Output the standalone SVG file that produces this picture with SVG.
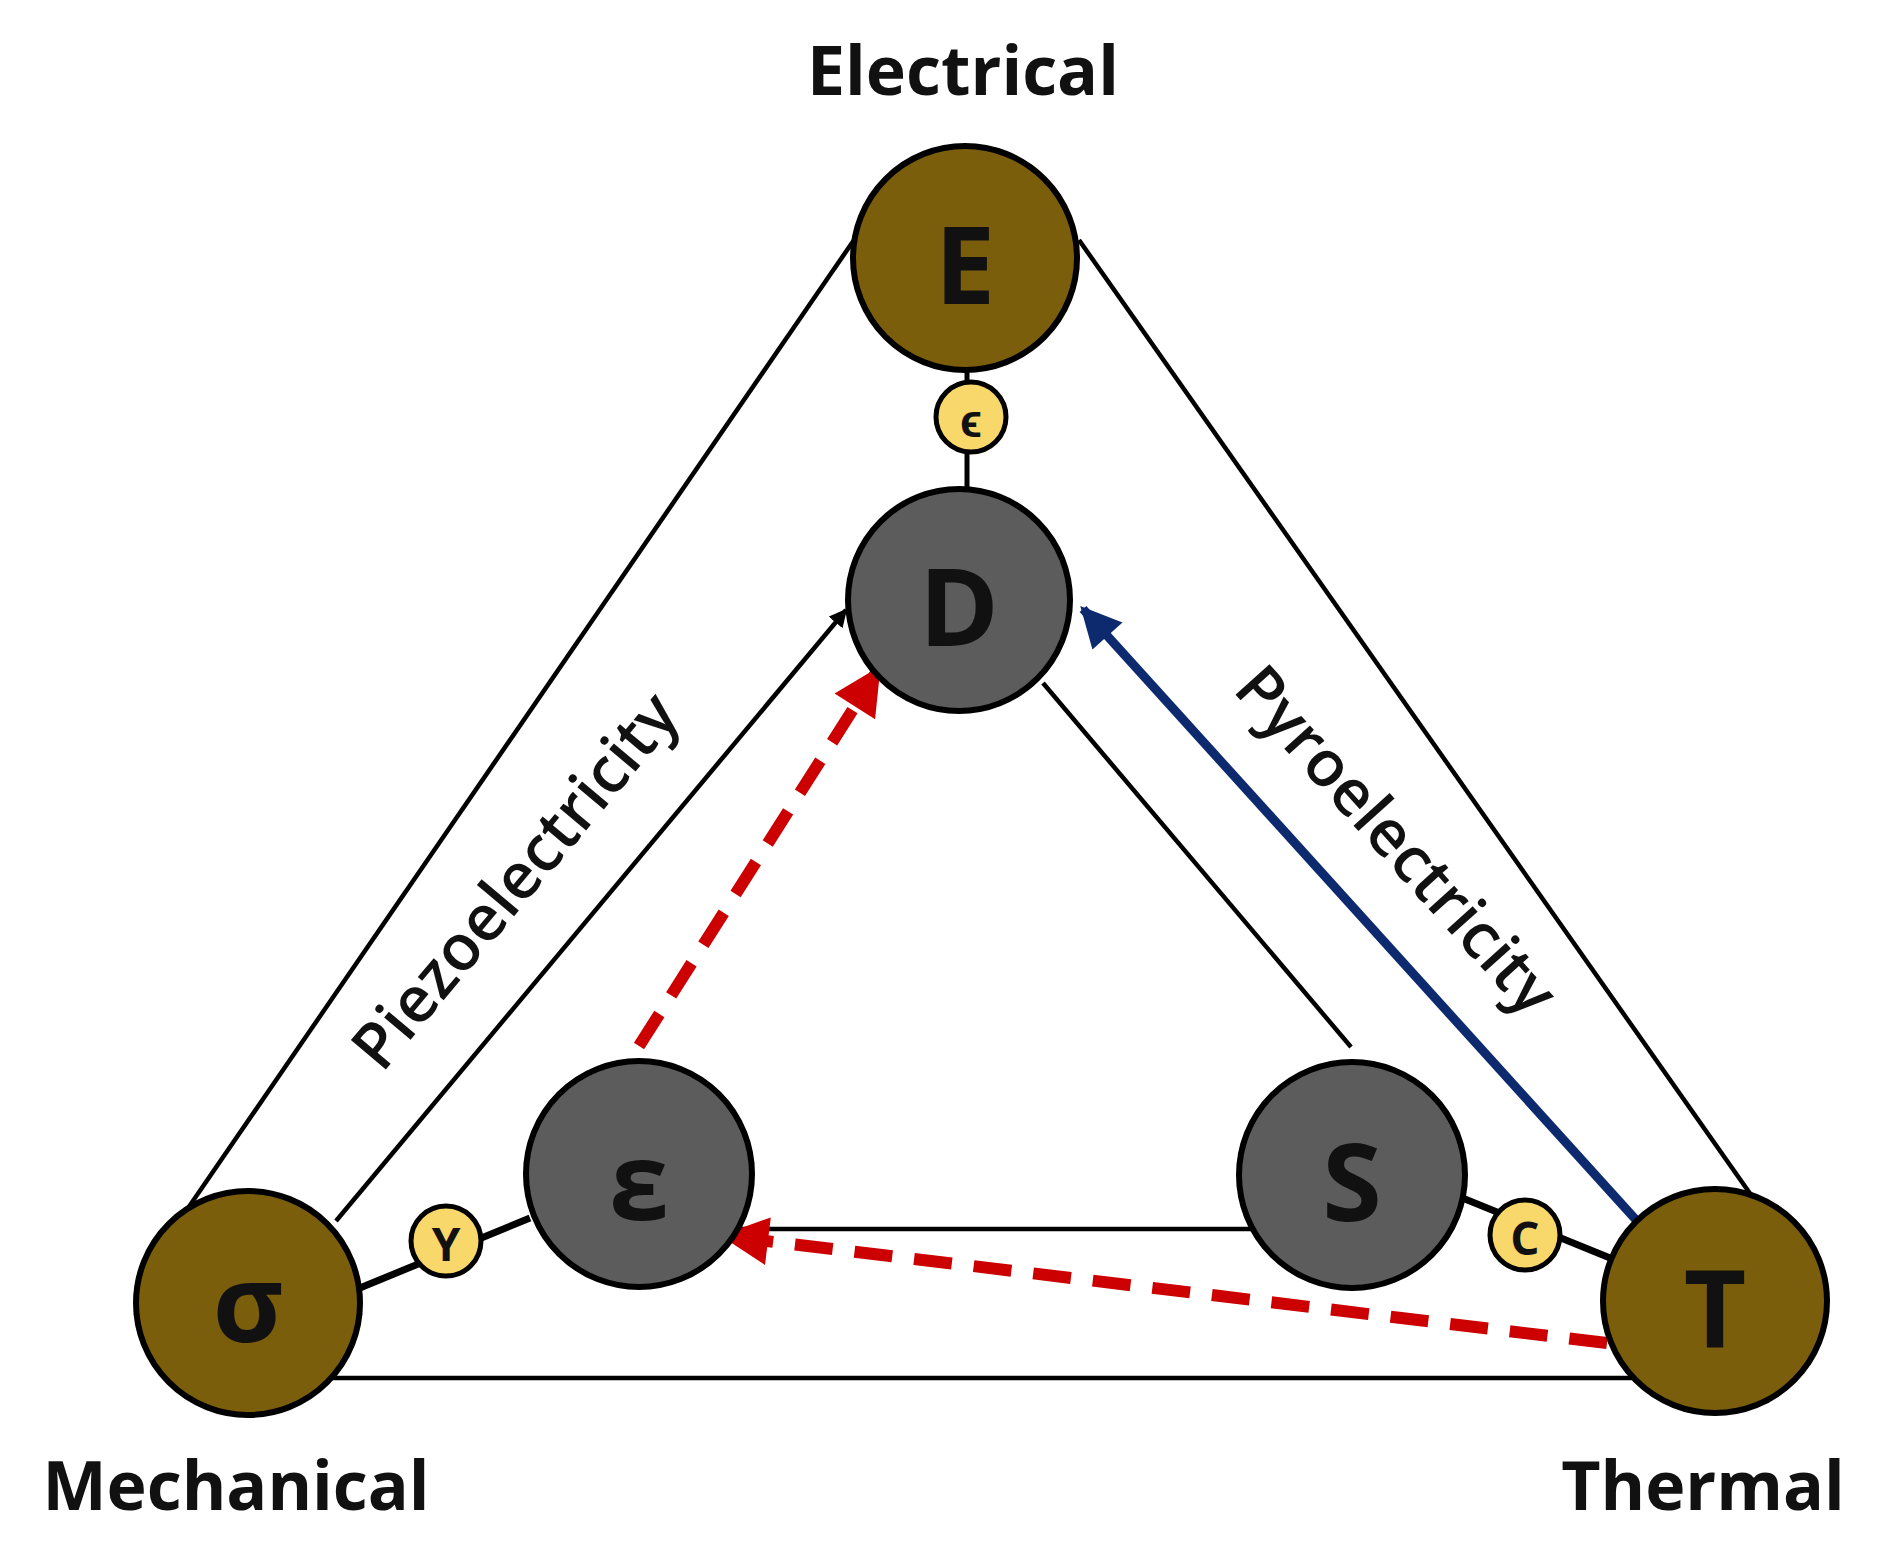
<svg xmlns="http://www.w3.org/2000/svg" width="1880" height="1546" viewBox="0 0 1880 1546">
<style>
.t{font-family:"Open Sans","Liberation Sans",sans-serif;font-weight:bold;fill:#111}
.big{stroke:#000;stroke-width:6}
.br{fill:#7b5e0c}.gr{fill:#5c5c5c}.ye{fill:#f8d86a;stroke:#000;stroke-width:5}
.ln{stroke:#000;stroke-width:4.5;fill:none}
.lt{font-size:108px;text-anchor:middle;dominant-baseline:central}
.sm{font-size:46px;text-anchor:middle;dominant-baseline:central}
.lab{font-size:68px;text-anchor:middle}
.rot{font-size:64px;text-anchor:middle;font-weight:600}
</style>
<defs>
<marker id="ab" viewBox="0 0 10 10" refX="9" refY="5" markerWidth="5" markerHeight="4.5" orient="auto"><path d="M0,0L10,5L0,10z" fill="#0d2a6e"/></marker>
<marker id="ar" viewBox="0 0 10 10" refX="9" refY="5" markerWidth="4.5" markerHeight="4" orient="auto"><path d="M0,0L10,5L0,10z" fill="#cc0000"/></marker>
<marker id="ak" viewBox="0 0 10 10" refX="9" refY="5" markerWidth="4" markerHeight="4" orient="auto"><path d="M0,0L10,5L0,10z" fill="#000"/></marker>
</defs>
<g id="connectors">
<line class="ln" x1="854" y1="240" x2="186" y2="1211"/>
<line class="ln" x1="1079" y1="240" x2="1775" y2="1229"/>
<line class="ln" x1="300" y1="1378" x2="1650" y2="1378"/>
<line class="ln" x1="336" y1="1221" x2="846" y2="610" marker-end="url(#ak)"/>
<line class="ln" x1="1043" y1="683" x2="1351" y2="1047"/>
<line class="ln" x1="725" y1="1229" x2="1260" y2="1229"/>
<line class="ln" x1="967" y1="360" x2="967" y2="490" style="stroke-width:5"/>
<line class="ln" x1="355" y1="1290" x2="530" y2="1218" style="stroke-width:7"/>
<line class="ln" x1="1455" y1="1195" x2="1615" y2="1260" style="stroke-width:7"/>
<line x1="1637" y1="1221" x2="1083" y2="609" stroke="#0d2a6e" stroke-width="9" marker-end="url(#ab)"/>
<line x1="639" y1="1046" x2="878" y2="670" stroke="#cc0000" stroke-width="12" stroke-dasharray="38,22" marker-end="url(#ar)"/>
<line x1="1607" y1="1343" x2="725" y2="1236" stroke="#cc0000" stroke-width="12" stroke-dasharray="38,22" marker-end="url(#ar)"/>
</g>
<g id="E"><circle class="big br" cx="965" cy="258" r="112"/><text class="t lt" x="965" y="262">E</text></g>
<g id="eps"><circle class="ye" cx="971" cy="417" r="35"/><text class="t sm" x="971" y="419">ϵ</text></g>
<g id="D"><circle class="big gr" cx="959" cy="600" r="111"/><text class="t lt" x="959" y="604">D</text></g>
<g id="strain"><circle class="big gr" cx="639" cy="1174" r="113"/><text class="t lt" x="639" y="1178">ε</text></g>
<g id="S"><circle class="big gr" cx="1352" cy="1175" r="113"/><text class="t lt" x="1352" y="1179">S</text></g>
<g id="sigma"><circle class="big br" cx="248" cy="1303" r="112"/><text class="t lt" x="248" y="1300">σ</text></g>
<g id="T"><circle class="big br" cx="1715" cy="1301" r="112"/><text class="t lt" x="1715" y="1305">T</text></g>
<g id="gamma"><circle class="ye" cx="446" cy="1241" r="35"/><text class="t sm" x="446" y="1243">Y</text></g>
<g id="c"><circle class="ye" cx="1525" cy="1235" r="35"/><text class="t sm" x="1525" y="1237">C</text></g>
<g id="labels">
<text class="t lab" x="963" y="95">Electrical</text>
<text class="t lab" x="236" y="1510">Mechanical</text>
<text class="t lab" x="1703" y="1510">Thermal</text>
<text class="t rot" transform="translate(1380,855) rotate(48)">Pyroelectricity</text>
<text class="t rot" transform="translate(532,895) rotate(-50)">Piezoelectricity</text>
</g>
</svg>
